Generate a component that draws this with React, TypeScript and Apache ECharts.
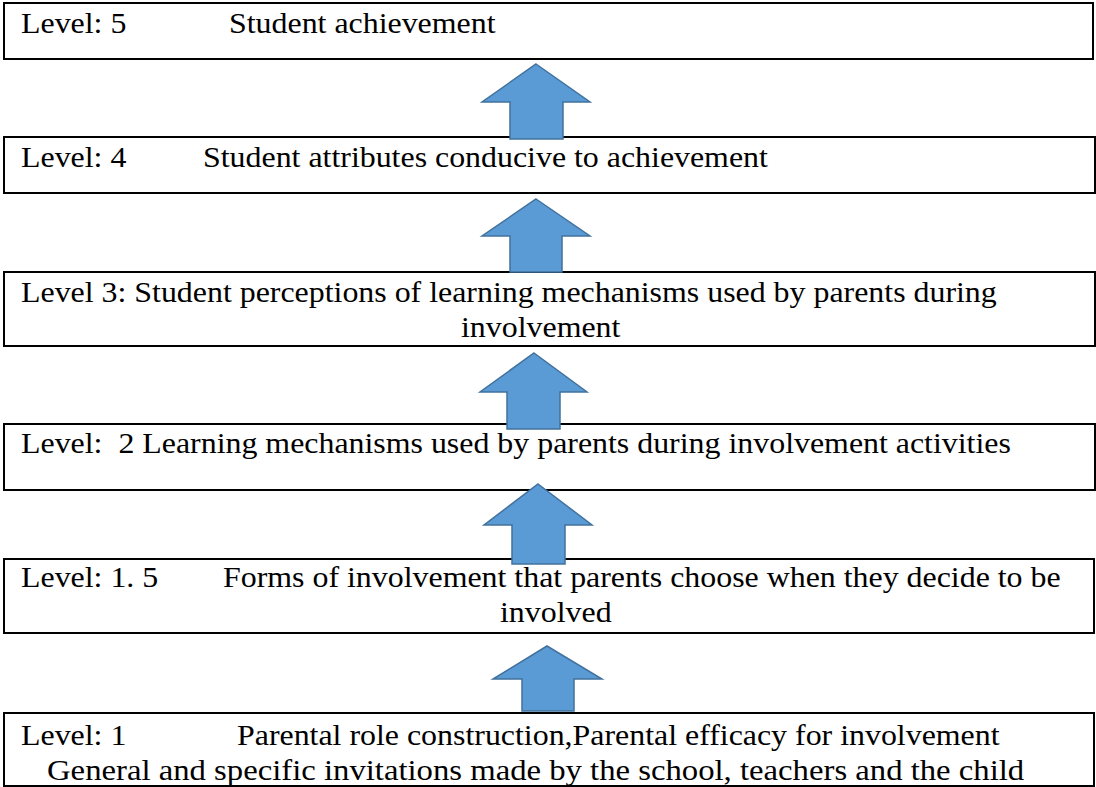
import React, { useEffect, useRef } from "react";
import * as echarts from "echarts";

// ---- Data: level labels and their descriptions (top to bottom) ----
const levelLabels: string[] = ["Level: 5", "Level: 4", "Level 3:", "Level:  2", "Level: 1. 5", "Level: 1"];
const lineTexts: string[] = [
  "Level: 5",
  "Student achievement",
  "Level: 4",
  "Student attributes conducive to achievement",
  "Level 3: Student perceptions of learning mechanisms used by parents during",
  "involvement",
  "Level:  2 Learning mechanisms used by parents during involvement activities",
  "Level: 1. 5",
  "Forms of involvement that parents choose when they decide to be",
  "involved",
  "Level: 1",
  "Parental role construction,Parental efficacy for involvement",
  "General and specific invitations made by the school, teachers and the child",
];

// ---- Layout (kept separate from data) ----
// Boxes: [left, top, right, bottom], one per level
const boxLayout: number[][] = [
  [4, 3, 1093, 59],
  [4, 137, 1095, 193],
  [4, 272, 1095, 346],
  [4, 424, 1095, 490],
  [4, 559, 1094, 633],
  [4, 713, 1094, 786],
];
// Text lines: [x, baselineY, horizontal scale]
const lineLayout: number[][] = [
  [21, 33, 1.1],
  [229, 33, 1.1],
  [21, 167, 1.1],
  [203, 167, 1.1],
  [21, 302, 1.1],
  [461, 337, 1.1],
  [21, 453, 1.1],
  [21, 587, 1.1],
  [223, 587, 1.1],
  [500, 622, 1.1],
  [21, 745, 1.1],
  [237, 745, 1.1],
  [47, 780, 1.128],
];
// Arrows between levels: [tipX, tipY, wingL, wingR, wingY, shaftL, shaftR, bottom]
const arrowLayout: number[][] = [
  [536, 64, 482, 590, 102, 510, 563, 139],
  [536, 199, 482, 590, 236, 510, 562, 272],
  [534, 353, 480, 587, 392, 507, 560, 429],
  [538, 484, 484, 592, 525, 512, 565, 564],
  [547, 646, 493, 602, 679, 522, 574, 711],
];

const FS = 29;

export default function App() {
  const ref = useRef<HTMLDivElement>(null);
  useEffect(() => {
    if (!ref.current) return;
    const chart = echarts.init(ref.current, null, { renderer: "svg" });
    const elements: any[] = [];
    levelLabels.forEach((_, i) => {
      const b = boxLayout[i];
      elements.push({
        type: "rect",
        id: "box" + i,
        shape: { x: b[0], y: b[1], width: b[2] - b[0], height: b[3] - b[1] },
        style: { fill: "#ffffff", stroke: "#000000", lineWidth: 2 },
        z: 1,
      });
    });
    arrowLayout.forEach((a, i) => {
      const [tx, ty, wl, wr, wy, sl, sr, bt] = a;
      elements.push({
        type: "polygon",
        id: "arrow" + i,
        shape: {
          points: [
            [tx, ty],
            [wr, wy],
            [sr, wy],
            [sr, bt],
            [sl, bt],
            [sl, wy],
            [wl, wy],
          ],
        },
        style: { fill: "#5B9BD5", stroke: "#41719C", lineWidth: 1.5 },
        z: 3,
      });
    });
    lineTexts.forEach((t, i) => {
      const [x, base, sx] = lineLayout[i];
      elements.push({
        type: "text",
        id: "txt" + i,
        x,
        y: base - 0.3375 * FS,
        scaleX: sx,
        style: {
          text: t,
          x: 0,
          y: 0,
          fill: "#000000",
          fontFamily: "Liberation Serif",
          fontSize: FS,
          textAlign: "left",
          verticalAlign: "middle",
        },
        z: 2,
      });
    });
    chart.setOption({
      animation: false,
      backgroundColor: "#ffffff",
      graphic: { elements },
    });
    return () => chart.dispose();
  }, []);
  return (
    <div
      ref={ref}
      style={{ position: "fixed", left: 0, top: 0, width: 1096, height: 787, background: "#fff" }}
    />
  );
}
